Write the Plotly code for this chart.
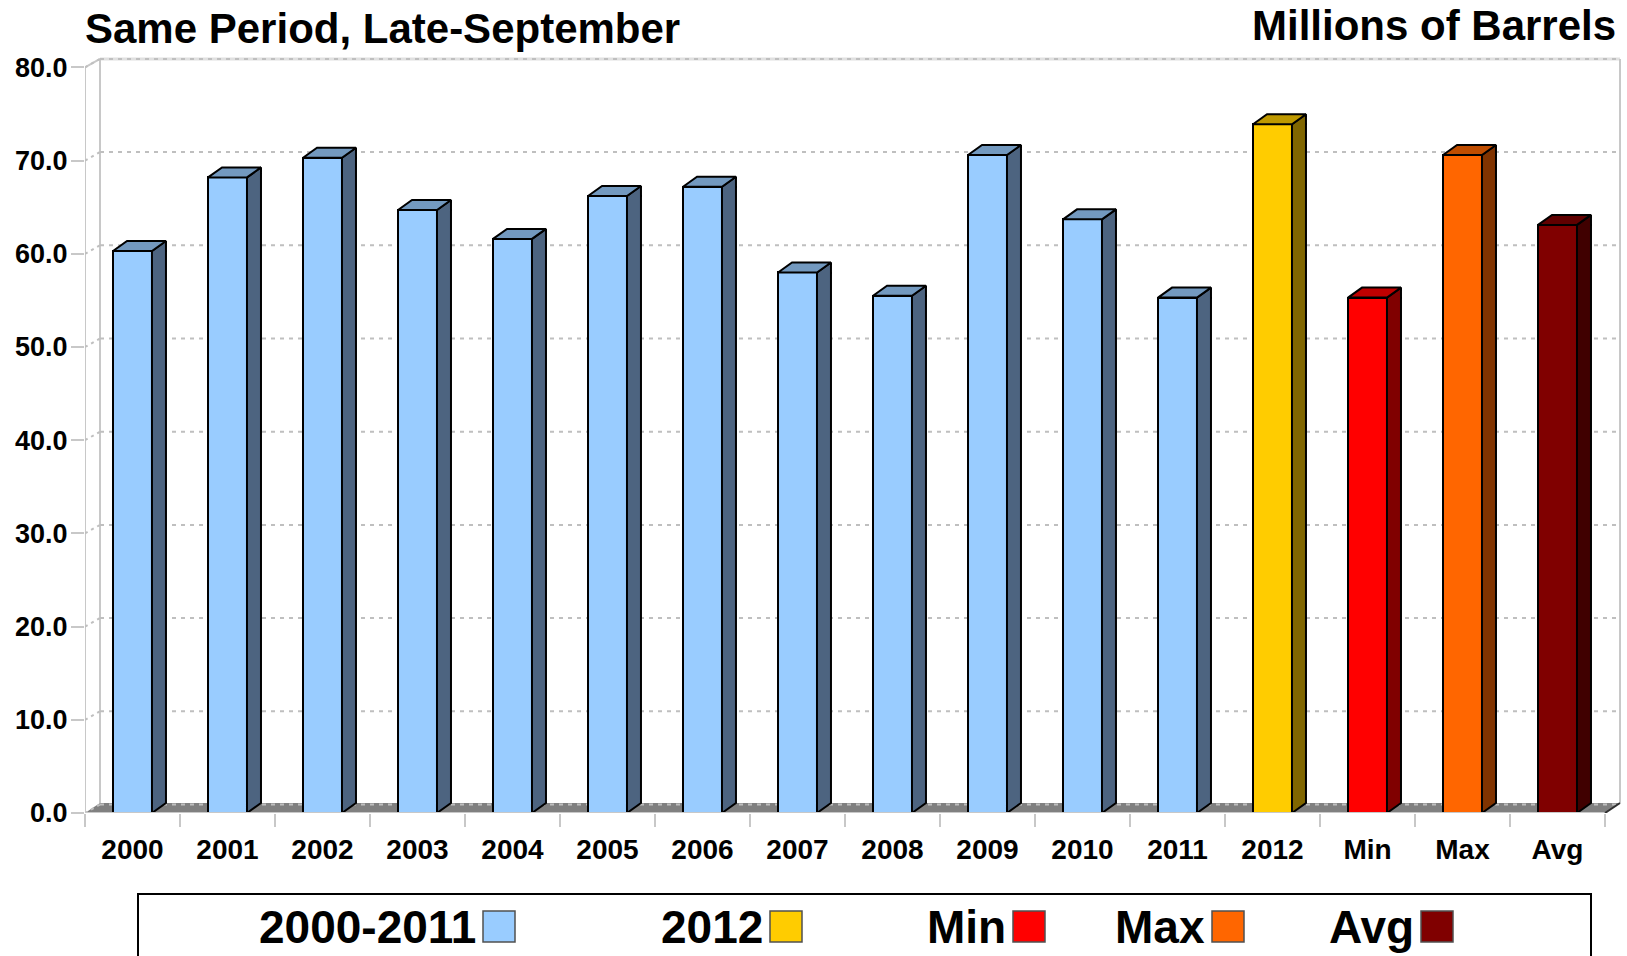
import plotly.graph_objects as go

# ---------------- data ----------------
categories = ["2000", "2001", "2002", "2003", "2004", "2005", "2006", "2007",
              "2008", "2009", "2010", "2011", "2012", "Min", "Max", "Avg"]
values = [60.3, 68.2, 70.3, 64.7, 61.6, 66.2, 67.2, 58.0,
          55.5, 70.6, 63.7, 55.3, 73.9, 55.3, 70.6, 63.1]
face_colors = ["#99CCFF"] * 12 + ["#FFCC00", "#FF0000", "#FF6600", "#800000"]
side_colors = ["#4D6480"] * 12 + ["#806600", "#800000", "#803300", "#400000"]
top_colors = ["#7399BF"] * 12 + ["#BF9900", "#BF0000", "#BF4D00", "#600000"]
y_tick_vals = [0, 10, 20, 30, 40, 50, 60, 70, 80]
y_tick_text = [f"{v:.1f}" for v in y_tick_vals]
legend_labels = ["2000-2011", "2012", "Min", "Max", "Avg"]
legend_colors = ["#99CCFF", "#FFCC00", "#FF0000", "#FF6600", "#800000"]
title_left = "Same Period, Late-September"
title_right = "Millions of Barrels"

# ---------------- geometry (pixels) ----------------
W, H = 1627, 956
L, R, T, B = 85, 5, 55, 143
PW, PH = W - L - R, H - T - B
CAT_PX = 95.0          # pixels per category
Y_PX = 9.32            # pixels per unit
n = len(categories)
x_lo = -0.5
x_hi = x_lo + PW / CAT_PX
y_hi = PH / Y_PX
bar_w = 0.41
dxb, dyb = 14 / CAT_PX, 10 / Y_PX      # bar depth
dxw, dyw = 15 / CAT_PX, 8.5 / Y_PX     # wall depth
dyf = 10 / Y_PX                        # floor depth

FONT = "Liberation Sans, Arial, sans-serif"
GRID = "#BFBFBF"

fig = go.Figure()

# front faces
fig.add_trace(go.Bar(
    x=list(range(n)), y=values, width=bar_w,
    marker=dict(color=face_colors, line=dict(color="black", width=2)),
    hoverinfo="skip", showlegend=False,
))

# side & top faces
for i, v in enumerate(values):
    xl, xr = i - bar_w / 2, i + bar_w / 2
    fig.add_trace(go.Scatter(
        x=[xr, xr + dxb, xr + dxb, xr, xr],
        y=[0, dyb, v + dyb, v, 0],
        mode="lines", fill="toself", fillcolor=side_colors[i],
        line=dict(color="black", width=2), hoverinfo="skip", showlegend=False,
    ))
    fig.add_trace(go.Scatter(
        x=[xl, xr, xr + dxb, xl + dxb, xl],
        y=[v, v, v + dyb, v + dyb, v],
        mode="lines", fill="toself", fillcolor=top_colors[i],
        line=dict(color="black", width=2), hoverinfo="skip", showlegend=False,
    ))

shapes = []
xe = n - 0.5
# floor
shapes.append(dict(type="path", xref="x", yref="y", layer="below",
                   path=f"M {x_lo},0 L {xe},0 L {xe+dxw},{dyf} L {x_lo+dxw},{dyf} Z",
                   fillcolor="#808080", line=dict(width=0)))
# back wall solid outline
shapes.append(dict(type="line", xref="x", yref="y", layer="below",
                   x0=x_lo + dxw, x1=xe + dxw, y0=80 + dyw, y1=80 + dyw,
                   line=dict(color="#E0E0E0", width=3)))
shapes.append(dict(type="line", xref="x", yref="y", layer="below",
                   x0=xe + dxw, x1=xe + dxw, y0=dyf, y1=80 + dyw,
                   line=dict(color="#C8C8C8", width=2)))
shapes.append(dict(type="line", xref="x", yref="y", layer="below",
                   x0=x_lo + dxw, x1=x_lo + dxw, y0=dyf, y1=80 + dyw,
                   line=dict(color="#C8C8C8", width=2)))
# left wall front edge + top diagonal
shapes.append(dict(type="line", xref="x", yref="y", layer="below",
                   x0=x_lo, x1=x_lo, y0=0, y1=80,
                   line=dict(color="#C8C8C8", width=2)))
shapes.append(dict(type="line", xref="x", yref="y", layer="below",
                   x0=x_lo, x1=x_lo + dxw, y0=80, y1=80 + dyw,
                   line=dict(color="#C8C8C8", width=2)))
# gridlines on back wall (and short bits on the left wall)
for v in y_tick_vals:
    shapes.append(dict(type="line", xref="x", yref="y", layer="below",
                       x0=x_lo + dxw, x1=xe + dxw, y0=v + dyw, y1=v + dyw,
                       line=dict(color=GRID, width=2, dash="4px,5px")))
    shapes.append(dict(type="line", xref="x", yref="y", layer="below",
                       x0=x_lo, x1=x_lo + dxw, y0=v, y1=v + dyw,
                       line=dict(color=GRID, width=2, dash="3px,4px")))
# front axis line and right floor edge
shapes.append(dict(type="line", xref="x", yref="y", layer="above",
                   x0=x_lo, x1=xe, y0=0, y1=0,
                   line=dict(color="#C8C8C8", width=2)))
shapes.append(dict(type="line", xref="x", yref="y", layer="above",
                   x0=xe, x1=xe + dxw, y0=0, y1=dyf,
                   line=dict(color="#303030", width=2)))


def px(p):
    return (p - L) / PW


def py(p):
    return (H - B - p) / PH


annotations = [
    dict(text=title_left, xref="paper", yref="paper", x=px(83), y=py(28),
         xanchor="left", yanchor="middle", showarrow=False,
         font=dict(family=FONT, size=42, color="black", weight="bold")),
    dict(text=title_right, xref="paper", yref="paper", x=px(1618), y=py(26),
         xanchor="right", yanchor="middle", showarrow=False,
         font=dict(family=FONT, size=42, color="black", weight="bold")),
]

# legend box
shapes.append(dict(type="rect", xref="paper", yref="paper",
                   x0=px(138), x1=px(1591), y0=py(894), y1=py(975),
                   line=dict(color="black", width=2), fillcolor="white"))
leg_swatch_x = [483, 770, 1013, 1212, 1421]
for lab, col, sx in zip(legend_labels, legend_colors, leg_swatch_x):
    shapes.append(dict(type="rect", xref="paper", yref="paper",
                       x0=px(sx), x1=px(sx + 32), y0=py(942), y1=py(911),
                       line=dict(color="#505050", width=1.5), fillcolor=col))
    annotations.append(dict(text=lab, xref="paper", yref="paper",
                            x=px(sx - 5), y=py(927), xanchor="right", yanchor="middle",
                            showarrow=False,
                            font=dict(family=FONT, size=46, color="black", weight="bold")))

fig.update_layout(
    width=W, height=H, autosize=False,
    margin=dict(l=L, r=R, t=T, b=B, pad=0),
    paper_bgcolor="white", plot_bgcolor="white",
    bargap=0, showlegend=False,
    shapes=shapes, annotations=annotations,
    xaxis=dict(range=[x_lo, x_hi], tickmode="array", tickvals=list(range(n)),
               ticktext=categories, ticks="", showgrid=False, zeroline=False,
               showline=False, fixedrange=True, ticklabelstandoff=17,
               tickfont=dict(family=FONT, size=28, color="black", weight="bold"),
               minor=dict(tickmode="array", tickvals=[k - 0.5 for k in range(n + 1)],
                          ticks="outside", ticklen=13, tickwidth=2, tickcolor="#C8C8C8",
                          showgrid=False)),
    yaxis=dict(range=[0, y_hi], tickmode="array", tickvals=y_tick_vals,
               ticktext=y_tick_text, ticks="outside", ticklen=13, tickwidth=2,
               tickcolor="#C8C8C8", showgrid=False, zeroline=False, showline=False,
               fixedrange=True, ticklabelstandoff=-2,
               tickfont=dict(family=FONT, size=27, color="black", weight="bold")),
)

fig.write_html("out.html", config={"displayModeBar": False},
               post_script="document.body.style.margin='0px';document.body.style.overflow='hidden';")
